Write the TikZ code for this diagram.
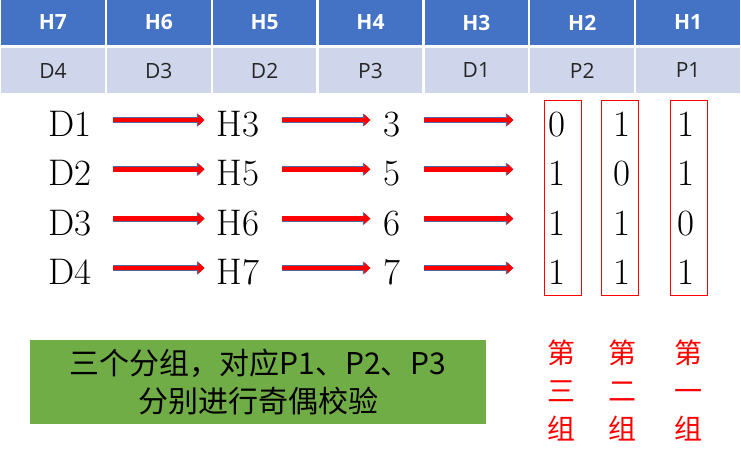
\documentclass[tikz,border=0pt]{standalone}
\usepackage{fontspec}
\newfontfamily\cjk{Noto Sans CJK SC}
\newfontfamily\hdfont{Open Sans}
\usetikzlibrary{arrows.meta,positioning}
\definecolor{hdblue}{RGB}{68,114,196}
\definecolor{hdlight}{RGB}{207,213,234}
\definecolor{grpgreen}{RGB}{112,173,71}
\definecolor{arredge}{RGB}{84,104,160}

\begin{document}
\begin{tikzpicture}[x=1pt,y=-1pt,
    hdcell/.style={fill=hdblue,text=white,minimum width=103.5pt,minimum height=45pt,inner sep=0,font=\hdfont\bfseries\fontsize{21}{21}\selectfont},
    mapcell/.style={fill=hdlight,text=black!85,minimum width=103.5pt,minimum height=45pt,inner sep=0,font=\hdfont\fontsize{21}{21}\selectfont},
    big/.style={inner sep=0,text height=33pt,text depth=0pt,font=\fontsize{37}{37}\selectfont},
    arr/.style={-{Triangle[length=6pt,width=11pt]},line width=4.5pt,red,
        preaction={draw=arredge,line width=6pt,-{Triangle[length=7.5pt,width=13pt]}}},
    bitbox/.style={draw=red,line width=0.9pt,minimum width=37pt,minimum height=195pt,inner sep=0},
    grplabel/.style={text=red,align=center,inner sep=0,font=\cjk\fontsize{28}{38}\selectfont}
]
\useasboundingbox (0,0) rectangle (741,452);

% bit positions and what sits in them
\foreach \h/\m [count=\i] in {H7/D4,H6/D3,H5/D2,H4/P3,H3/D1,H2/P2,H1/P1} {
    \node[hdcell] (hd\i) at ({52.93+105.86*(\i-1)},22.5) {\h};
    \node[mapcell] (mp\i) at ({52.93+105.86*(\i-1)},70.5) {\m};
}

% data bit -> position -> binary
\node[big] (d1) at (70,120) {D1};
\node[big] (d2) at (70,169.3) {D2};
\node[big] (d3) at (70,218.6) {D3};
\node[big] (d4) at (70,268) {D4};
\node[big] (c1) at (238,120) {H3};
\node[big] (c2) at (238,169.3) {H5};
\node[big] (c3) at (238,218.6) {H6};
\node[big] (c4) at (238,268) {H7};
\node[big] (n1) at (392,120) {3};
\node[big] (n2) at (392,169.3) {5};
\node[big] (n3) at (392,218.6) {6};
\node[big] (n4) at (392,268) {7};

\node[big] (b11) at (557,120) {0};
\node[big] (b21) at (557,169.3) {1};
\node[big] (b31) at (557,218.6) {1};
\node[big] (b41) at (557,268) {1};
\node[big] (b12) at (622,120) {1};
\node[big] (b22) at (622,169.3) {0};
\node[big] (b32) at (622,218.6) {1};
\node[big] (b42) at (622,268) {1};
\node[big] (b13) at (686,120) {1};
\node[big] (b23) at (686,169.3) {1};
\node[big] (b33) at (686,218.6) {0};
\node[big] (b43) at (686,268) {1};

\node[bitbox] (g1) at (562.5,197.5) {};
\node[bitbox] (g2) at (620,197.5) {};
\node[bitbox] (g3) at (688.5,197.5) {};

\foreach \r in {1,2,3,4} {
    \draw[arr,shorten <=21pt,shorten >=12pt] (d\r.east) -- (c\r.west);
    \draw[arr,shorten <=22pt,shorten >=13pt] (c\r.east) -- (n\r.west);
    \draw[arr,shorten <=23pt,shorten >=35pt] (n\r.east) -- (b\r1.west);
}

\node[fill=grpgreen,minimum width=456pt,minimum height=84pt,align=center,inner sep=0,
      font=\cjk\fontsize{30}{38}\selectfont] (note) at (258,382)
      {三个分组，对应P1、P2、P3\\分别进行奇偶校验};

\node[grplabel] (l3) at (561,390) {第\\三\\组};
\node[grplabel] (l2) at (622,390) {第\\二\\组};
\node[grplabel] (l1) at (688,390) {第\\一\\组};
\end{tikzpicture}
\end{document}
